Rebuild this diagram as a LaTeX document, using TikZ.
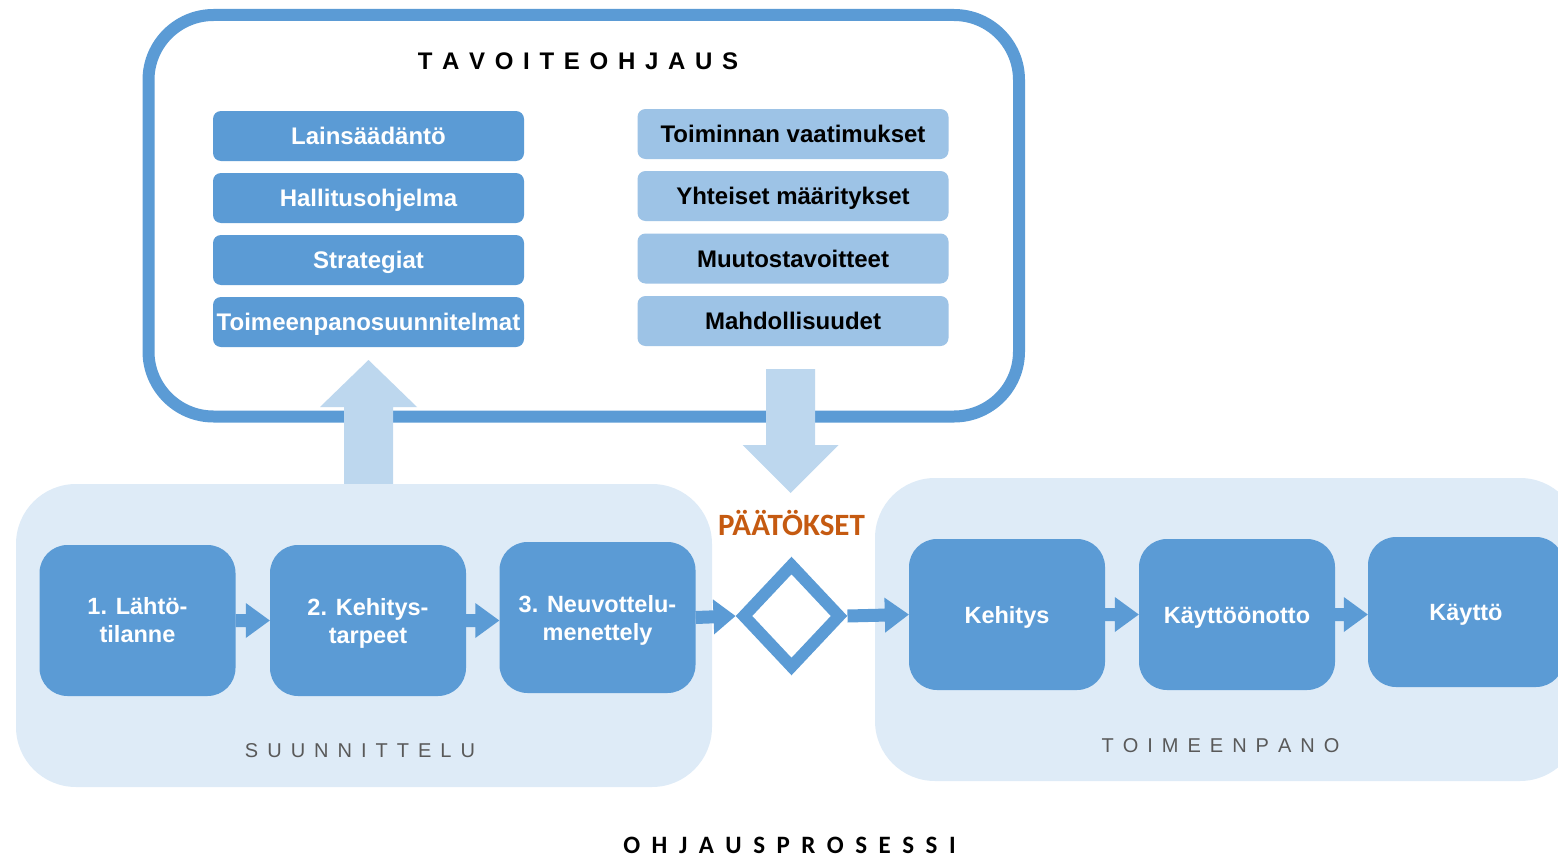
\documentclass[tikz,border=0pt]{standalone}
\usepackage{fontspec}
\setmainfont{Liberation Sans}
\newfontfamily\carl{Carlito}
\usetikzlibrary{shapes.geometric,calc}
\definecolor{dblue}{HTML}{5B9BD5}
\definecolor{mblue}{HTML}{9DC3E6}
\definecolor{lblue}{HTML}{BDD7EE}
\definecolor{bgblue}{HTML}{DEEBF7}
\definecolor{orng}{HTML}{C55A11}
\definecolor{greytxt}{HTML}{595959}
\newcommand\lsp[2]{\def\lspgap{#1}\lspA#2\relax}
\def\lspA#1#2\relax{#1\ifx\relax#2\relax\else\hspace{\lspgap}\lspA#2\relax\fi}
% block arrow: colour, start, tip, half shaft, half head, head length
\newcommand\barrow[6]{%
  \coordinate (ba-b) at ($(#3)!#6!(#2)$);
  \fill[#1] ($(#2)!#4!90:(#3)$) -- ($(ba-b)!#4!90:(#3)$) -- ($(ba-b)!#5!90:(#3)$) -- (#3)
    -- ($(ba-b)!#5!-90:(#3)$) -- ($(ba-b)!#4!-90:(#3)$) -- ($(#2)!#4!-90:(#3)$) -- cycle;}
\begin{document}
\begin{tikzpicture}[x=1pt,y=-1pt,
  panel/.style={fill=bgblue, rounded corners=60, inner sep=0},
  colbox/.style={rounded corners=8, minimum width=311, minimum height=50, inner sep=0,
     text height=17.2, text depth=0, font=\fontsize{24}{28}\selectfont\bfseries},
  lbox/.style={colbox, fill=dblue, text=white},
  rbox/.style={colbox, fill=mblue, text=black},
  pbox/.style={fill=dblue, rounded corners=28, minimum width=196, minimum height=151,
     inner sep=0, text=white, align=center, font=\fontsize{23.5}{28}\selectfont\bfseries},
  kbox/.style={pbox, text height=17, text depth=0},
  spaced/.style={anchor=base, font=\fontsize{20}{24}\selectfont, text=greytxt}]
\useasboundingbox (0,0) rectangle (1558,859);

% panels
\node[panel, minimum width=696, minimum height=303] (suun) at (364,635.5) {};
\node[panel, minimum width=705, minimum height=303] (toim) at (1227.5,629.5) {};
\node[spaced] (suunlbl) at (360,757) {\lsp{9pt}{SUUNNITTELU}};
\node[spaced] (toimlbl) at (1220.5,752) {\lsp{9pt}{TOIMEENPANO}};

% top box
\node[draw=dblue, fill=white, line width=12, rounded corners=65, minimum width=870.5,
      minimum height=401.5, inner sep=0] (tav) at (583.75,215.75) {};
\node[anchor=base, font=\fontsize{24}{28}\selectfont\bfseries] (tavlbl) at (578,70)
      {\lsp{9.7pt}{TAVOITEOHJAUS}};

% big arrows
\coordinate (uptip) at (368.5,360);
\barrow{lblue}{suun.north -| uptip}{uptip}{24.5pt}{48.5pt}{47pt}
\coordinate (dntop) at (790.5,369);
\coordinate (dntip) at (790.5,493);
\barrow{lblue}{dntop}{dntip}{24.5pt}{48pt}{48pt}

% columns
\node[lbox] (l1) at (368.5,136) {Lainsäädäntö};
\node[lbox] (l2) at (368.5,198) {Hallitusohjelma};
\node[lbox] (l3) at (368.5,260) {Strategiat};
\node[lbox] (l4) at (368.5,322) {Toimeenpanosuunnitelmat};
\node[rbox] (r1) at (793,134) {Toiminnan vaatimukset};
\node[rbox] (r2) at (793,196) {Yhteiset määritykset};
\node[rbox] (r3) at (793,258.5) {Muutostavoitteet};
\node[rbox] (r4) at (793,321) {Mahdollisuudet};

% process boxes
\node[pbox] (p1) at (137.5,620.5) {1. Lähtö-\\tilanne};
\node[pbox] (p2) at (368,620.5) {2. Kehitys-\\\smash{tarpeet}};
\node[pbox] (p3) at (597.5,617.5) {3. Neuvottelu-\\\smash{menettely}};
\node[kbox] (k1) at (1007,614.5) {Kehitys};
\node[kbox] (k2) at (1237,614.5) {Käyttöönotto};
\node[kbox, minimum height=150] (k3) at (1466,612) {Käyttö};

% decision
\node[diamond, draw=dblue, line width=12, line join=miter, minimum width=100,
      minimum height=106, inner sep=0] (dec) at (791.5,616) {};
\node[anchor=base, font=\carl\fontsize{31}{36}\selectfont\bfseries, text=orng] (pat)
      at (791.5,535) {PÄÄTÖKSET};

% small arrows
\barrow{dblue}{p1.east}{p2.west}{6.5pt}{17.5pt}{24pt}
\barrow{dblue}{p2.east}{p2.east -| p3.west}{6.5pt}{17.5pt}{24pt}
\barrow{dblue}{p3.east}{dec.west}{6.5pt}{17.5pt}{22pt}
\barrow{dblue}{dec.east}{k1.west}{6.5pt}{17.5pt}{24pt}
\barrow{dblue}{k1.east}{k2.west}{6.5pt}{17.5pt}{24pt}
\barrow{dblue}{k2.east}{k2.east -| k3.west}{6.5pt}{17.5pt}{24pt}

% bottom title
\node[anchor=base, font=\carl\fontsize{25}{30}\selectfont\bfseries] (ohj) at (789.5,853)
      {\lsp{11.5pt}{OHJAUSPROSESSI}};
\end{tikzpicture}
\end{document}
